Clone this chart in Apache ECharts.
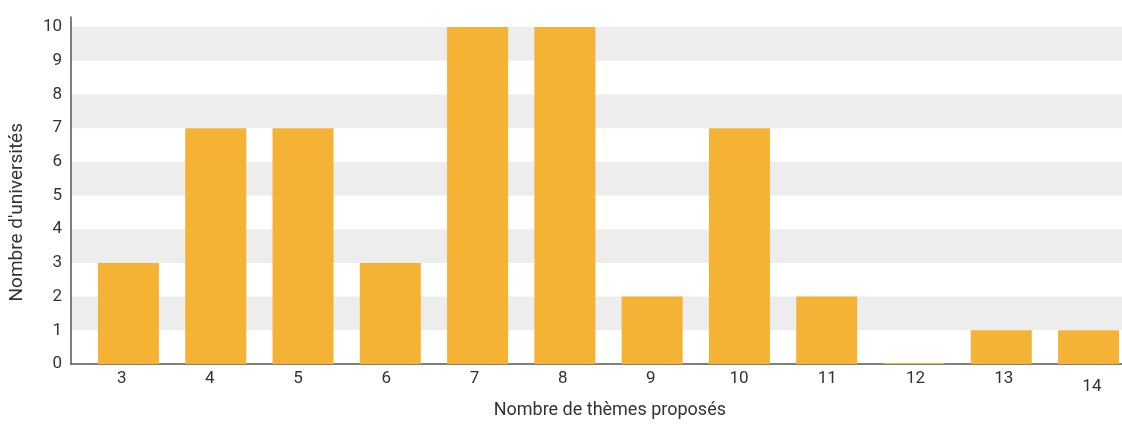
<!DOCTYPE html>
<html>
<head>
<meta charset="utf-8">
<script src="https://cdn.jsdelivr.net/npm/echarts@6/dist/echarts.min.js"></script>
<style>html,body{margin:0;padding:0;background:#fff;overflow:hidden}#c{width:1140px;height:424px}</style>
</head>
<body>
<div id="c"></div>
<script>
const categories = ['3','4','5','6','7','8','9','10','11','12','13','14'];
const universites = [3, 7, 7, 3, 10, 10, 2, 7, 2, 0, 1, 1];
const yTicks = [0,1,2,3,4,5,6,7,8,9,10];
const xTitle = 'Nombre de thèmes proposés';
const yTitle = "Nombre d'universités";

const FONT = 'Roboto, "Noto Sans", sans-serif';
const TXT = '#333333';
const chart = echarts.init(document.getElementById('c'), null, {renderer:'canvas'});
chart.setOption({
  animation: false,
  grid: [
    {left: 71, right: 18, top: 17, bottom: 60},
    {left: 84.8, right: 7.8, top: 17, bottom: 60},
    {left: 77.6, right: 4, top: 17, bottom: 60}
  ],
  xAxis: [
    {gridIndex: 0, type: 'category', data: categories, axisLine: {show: true, lineStyle: {color: '#555', width: 1.5}},
     axisTick: {show: false}, axisLabel: {show: false}, splitLine: {show: false}},
    {gridIndex: 1, type: 'category', data: categories, axisLine: {show: false}, axisTick: {show: false},
     axisLabel: {show: false}},
    {gridIndex: 2, type: 'category', data: categories, axisLine: {show: false}, axisTick: {show: false},
     axisLabel: {show: true, color: TXT, fontFamily: FONT, fontSize: 17, margin: 9,
       formatter: v => v === '14' ? '{lo|' + v + '}' : v,
       rich: {lo: {padding: [8, 0, 0, 0], color: TXT, fontFamily: FONT, fontSize: 17}}},
     name: xTitle, nameLocation: 'middle', nameGap: 40,
     nameTextStyle: {color: TXT, fontFamily: FONT, fontSize: 18, padding: [0, 0, 0, 6]}}
  ],
  yAxis: [
    {gridIndex: 0, type: 'value', min: 0, max: 10.3, interval: 1,
     axisLine: {show: true, lineStyle: {color: '#555', width: 1.5}}, axisTick: {show: false},
     axisLabel: {color: TXT, fontFamily: FONT, fontSize: 17, margin: 9,
       formatter: v => (yTicks.indexOf(v) >= 0 ? String(v) : '')},
     splitLine: {show: false},
     splitArea: {show: true, areaStyle: {color: ['rgba(255,255,255,0)', '#EDEDED']}}},
    {gridIndex: 1, type: 'value', min: 0, max: 10.3, show: false},
    {gridIndex: 2, type: 'value', min: 0, max: 10.3, show: false}
  ],
  graphic: [
    {type: 'text', left: 8, top: 123, rotation: Math.PI / 2, originX: 0, originY: 0,
     style: {text: yTitle, fill: TXT, font: '19px ' + FONT}}
  ],
  series: [
    {type: 'bar', xAxisIndex: 1, yAxisIndex: 1, data: universites, barWidth: 61, barMinHeight: 1,
     itemStyle: {color: '#F5B335'}, z: 3}
  ]
});
</script>
</body>
</html>
